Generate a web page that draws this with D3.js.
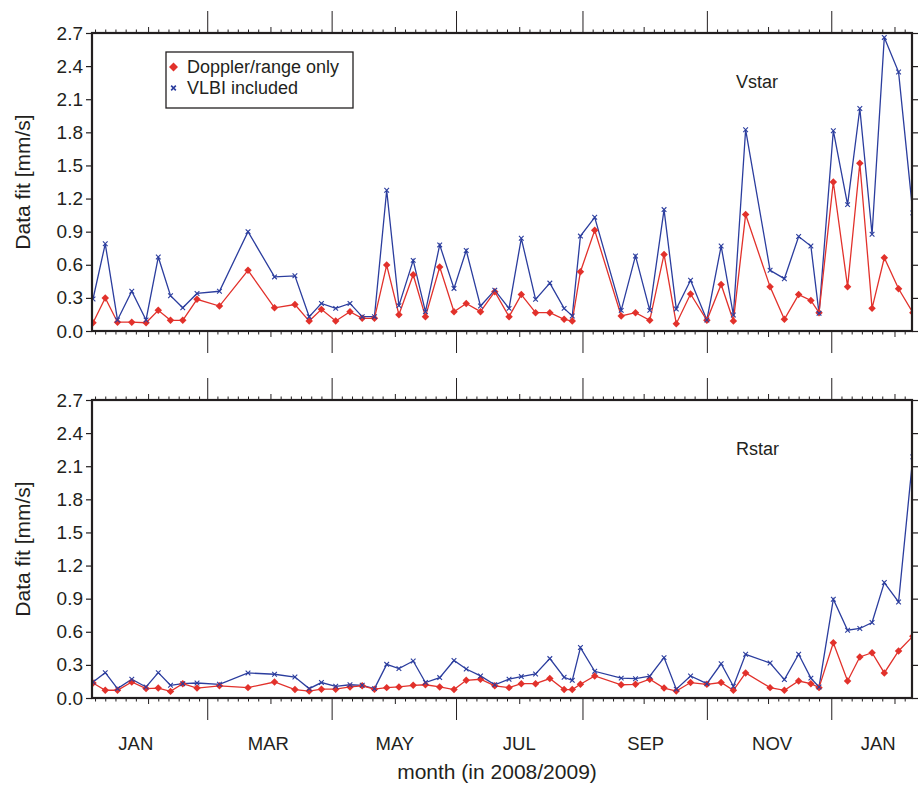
<!DOCTYPE html>
<html>
<head>
<meta charset="utf-8">
<script src="https://cdn.jsdelivr.net/npm/d3@7"></script>
<style>
  body { margin: 0; background: #fff; }
  svg text { font-family: "Liberation Sans", Arial, Helvetica, sans-serif; fill: #231f20; }
</style>
</head>
<body>
<div id="chart"></div>
<script>

// tracking sessions (same dates in both panels)
var sessionDates = ["2008-01-05","2008-01-11","2008-01-17","2008-01-24","2008-01-31","2008-02-06","2008-02-12","2008-02-18","2008-02-25",
  "2008-03-07","2008-03-21","2008-04-03","2008-04-13","2008-04-20","2008-04-26","2008-05-03","2008-05-10","2008-05-16","2008-05-22",
  "2008-05-28","2008-06-03","2008-06-10","2008-06-16","2008-06-23","2008-06-30","2008-07-06","2008-07-13","2008-07-20","2008-07-27",
  "2008-08-02","2008-08-09","2008-08-16","2008-08-23","2008-08-27","2008-08-31","2008-09-07","2008-09-20","2008-09-27","2008-10-04",
  "2008-10-11","2008-10-17","2008-10-24","2008-11-01","2008-11-08","2008-11-14","2008-11-20","2008-12-02","2008-12-09","2008-12-16",
  "2008-12-22","2008-12-26","2009-01-02","2009-01-09","2009-01-15","2009-01-21","2009-01-27","2009-02-03","2009-02-10"];

// Vstar
var vstarDoppler = [0.075,0.30,0.08,0.08,0.075,0.187,0.097,0.097,0.287,0.226,0.55,0.21,0.24,0.09,0.196,0.09,0.175,0.115,0.115,
  0.597,0.148,0.51,0.13,0.58,0.175,0.25,0.175,0.356,0.13,0.33,0.166,0.166,0.106,0.09,0.537,0.913,0.136,0.166,0.097,
  0.694,0.066,0.335,0.097,0.422,0.09,1.055,0.40,0.106,0.33,0.277,0.166,1.35,0.40,1.52,0.205,0.663,0.383,0.166];
var vstarVlbi = [0.29,0.79,0.10,0.36,0.10,0.67,0.32,0.21,0.34,0.36,0.90,0.49,0.50,0.13,0.25,0.205,0.25,0.13,0.13,
  1.275,0.23,0.64,0.175,0.78,0.386,0.73,0.226,0.37,0.205,0.84,0.287,0.434,0.205,0.136,0.86,1.03,0.187,0.68,0.187,
  1.10,0.20,0.46,0.10,0.77,0.145,1.824,0.55,0.474,0.856,0.77,0.16,1.815,1.145,2.016,0.877,2.66,2.346,1.07];

// Rstar
var rstarDoppler = [0.136,0.07,0.07,0.145,0.085,0.09,0.06,0.13,0.09,0.11,0.094,0.145,0.076,0.063,0.08,0.08,0.10,0.11,0.08,
  0.094,0.10,0.115,0.12,0.10,0.076,0.16,0.17,0.11,0.094,0.13,0.13,0.176,0.076,0.076,0.124,0.20,0.12,0.124,0.17,
  0.09,0.063,0.14,0.124,0.14,0.07,0.227,0.094,0.07,0.154,0.13,0.094,0.50,0.154,0.372,0.41,0.227,0.426,0.56];
var rstarVlbi = [0.145,0.23,0.085,0.17,0.10,0.23,0.115,0.13,0.136,0.124,0.227,0.215,0.19,0.085,0.14,0.106,0.12,0.115,0.085,
  0.305,0.266,0.335,0.14,0.185,0.34,0.263,0.20,0.12,0.17,0.194,0.218,0.357,0.188,0.16,0.457,0.242,0.18,0.175,0.197,
  0.366,0.08,0.20,0.13,0.31,0.106,0.396,0.317,0.167,0.396,0.18,0.10,0.895,0.614,0.63,0.684,1.046,0.87,2.185];

var yTickValues = [0, 0.3, 0.6, 0.9, 1.2, 1.5, 1.8, 2.1, 2.4, 2.7];
var monthLabels = ["JAN","MAR","MAY","JUL","SEP","NOV","JAN"];
var monthLabelDates = ["2008-01-26","2008-03-31","2008-06-01","2008-08-01","2008-10-02","2008-12-03","2009-01-24"];
var seriesNames = ["Doppler/range only", "VLBI included"];

var width = 921, height = 785;
var margin = { left: 92, top: 33 };
var plotW = 820, panelH = 298;
var panelGap = 367;   // top of panel 2 - top of panel 1

var red = "#e2312b", blue = "#2b3d9e";

var parseDate = d3.utcParse("%Y-%m-%d");
var dates = sessionDates.map(parseDate);

var xScale = d3.scaleUtc()
  .domain([new Date(Date.UTC(2008, 0, 4, 12)), new Date(Date.UTC(2009, 1, 9, 14))])
  .range([0, plotW]);
var yScale = d3.scaleLinear().domain([0, 2.7]).range([panelH, 0]);

var line = d3.line()
  .x(function(d) { return xScale(d.date); })
  .y(function(d) { return yScale(d.v); });

// tick intervals: long at odd months, medium at even months, small every 5 days
var majorTicks = xScale.ticks(d3.utcMonth.filter(function(d) { return d.getUTCMonth() % 2 === 0; }));
var mediumTicks = xScale.ticks(d3.utcMonth.filter(function(d) { return d.getUTCMonth() % 2 === 1; }));
var minorTicks = xScale.ticks(d3.utcDay.filter(function(d) { return [6, 11, 16, 21, 26].indexOf(d.getUTCDate()) >= 0; }));

var svg = d3.select("#chart").append("svg")
  .attr("width", width)
  .attr("height", height);

svg.append("defs").append("clipPath").attr("id", "plotClip")
  .append("rect").attr("x", 0).attr("y", 0).attr("width", plotW).attr("height", panelH);

var panels = [
  { name: "Vstar", doppler: vstarDoppler, vlbi: vstarVlbi },
  { name: "Rstar", doppler: rstarDoppler, vlbi: rstarVlbi }
];

function xTicks(g, axisFn, values, size) {
  g.call(axisFn(xScale).tickValues(values).tickSize(size).tickFormat(""))
  g.select(".domain").remove();
  g.selectAll(".tick line").attr("stroke", "#231f20").attr("stroke-width", 1);
}

panels.forEach(function(p, i) {
  var g = svg.append("g")
    .attr("transform", "translate(" + margin.left + "," + (margin.top + i * panelGap) + ")");

  // top and bottom time axes
  [[d3.axisTop, 0], [d3.axisBottom, panelH]].forEach(function(a) {
    var ag = g.append("g").attr("transform", "translate(0," + a[1] + ")");
    ag.append("g").call(xTicks, a[0], minorTicks, 3.5);
    ag.append("g").call(xTicks, a[0], mediumTicks, 6);
    ag.append("g").call(xTicks, a[0], majorTicks, 22);
  });

  // y axes
  var yl = g.append("g").call(d3.axisLeft(yScale).tickValues(yTickValues).tickSize(6).tickPadding(3).tickFormat(d3.format(".1f")));
  yl.select(".domain").remove();
  yl.selectAll("text").style("font-size", "19px").attr("fill", "#231f20");
  yl.selectAll(".tick line").attr("stroke", "#231f20").attr("stroke-width", 1.2);

  var yr = g.append("g").attr("transform", "translate(" + plotW + ",0)")
    .call(d3.axisRight(yScale).tickValues(yTickValues).tickSize(6).tickFormat(""));
  yr.select(".domain").remove();
  yr.selectAll(".tick line").attr("stroke", "#231f20").attr("stroke-width", 1.2);

  var plot = g.append("g").attr("clip-path", "url(#plotClip)");

  var dop = dates.map(function(d, k) { return { date: d, v: p.doppler[k] }; });
  var vl = dates.map(function(d, k) { return { date: d, v: p.vlbi[k] }; });

  plot.append("path").datum(vl).attr("d", line)
    .attr("fill", "none").attr("stroke", blue).attr("stroke-width", 1.3);
  plot.append("path").datum(dop).attr("d", line)
    .attr("fill", "none").attr("stroke", red).attr("stroke-width", 1.3);

  plot.selectAll(".dop").data(dop).enter().append("path")
    .attr("class", "dop")
    .attr("transform", function(d) { return "translate(" + xScale(d.date) + "," + yScale(d.v) + ") rotate(45)"; })
    .attr("d", d3.symbol(d3.symbolSquare, 28))
    .attr("fill", red);

  plot.selectAll(".vl").data(vl).enter().append("path")
    .attr("class", "vl")
    .attr("transform", function(d) { return "translate(" + xScale(d.date) + "," + yScale(d.v) + ")"; })
    .attr("d", d3.symbol(d3.symbolTimes, 16))
    .attr("fill", "none").attr("stroke", blue).attr("stroke-width", 1.1);

  // frame
  g.append("rect").attr("width", plotW).attr("height", panelH)
    .attr("fill", "none").attr("stroke", "#231f20").attr("stroke-width", 2.2);

  g.append("text").attr("x", 644).attr("y", 55)
    .style("font-size", "18px").text(p.name);

  g.append("text")
    .attr("transform", "translate(-62," + (panelH / 2) + ") rotate(-90)")
    .attr("text-anchor", "middle")
    .style("font-size", "21px")
    .text("Data fit [mm/s]");
});

// month labels under lower panel
var bottomY = margin.top + panelGap + panelH;
svg.append("g").selectAll("text").data(monthLabels).enter().append("text")
  .attr("x", function(d, i) { return margin.left + xScale(parseDate(monthLabelDates[i])); })
  .attr("y", bottomY + 52)
  .attr("text-anchor", "middle")
  .style("font-size", "18.5px")
  .text(function(d) { return d; });

svg.append("text")
  .attr("x", 497).attr("y", bottomY + 81)
  .attr("text-anchor", "middle")
  .style("font-size", "21px")
  .text("month (in 2008/2009)");

// legend
var lg = svg.append("g").attr("transform", "translate(166,52)");
lg.append("rect").attr("width", 187).attr("height", 56)
  .attr("fill", "#fff").attr("stroke", "#231f20").attr("stroke-width", 1.3);
lg.append("path").attr("transform", "translate(7.5,15) rotate(45)")
  .attr("d", d3.symbol(d3.symbolSquare, 40)).attr("fill", red);
lg.append("path").attr("transform", "translate(7.5,36)")
  .attr("d", d3.symbol(d3.symbolTimes, 16)).attr("fill", "none").attr("stroke", blue).attr("stroke-width", 1.6);
lg.selectAll("text").data(seriesNames).enter().append("text")
  .attr("x", 21).attr("y", function(d, i) { return 21 + i * 21; })
  .style("font-size", "18px")
  .text(function(d) { return d; });

</script>
</body>
</html>
